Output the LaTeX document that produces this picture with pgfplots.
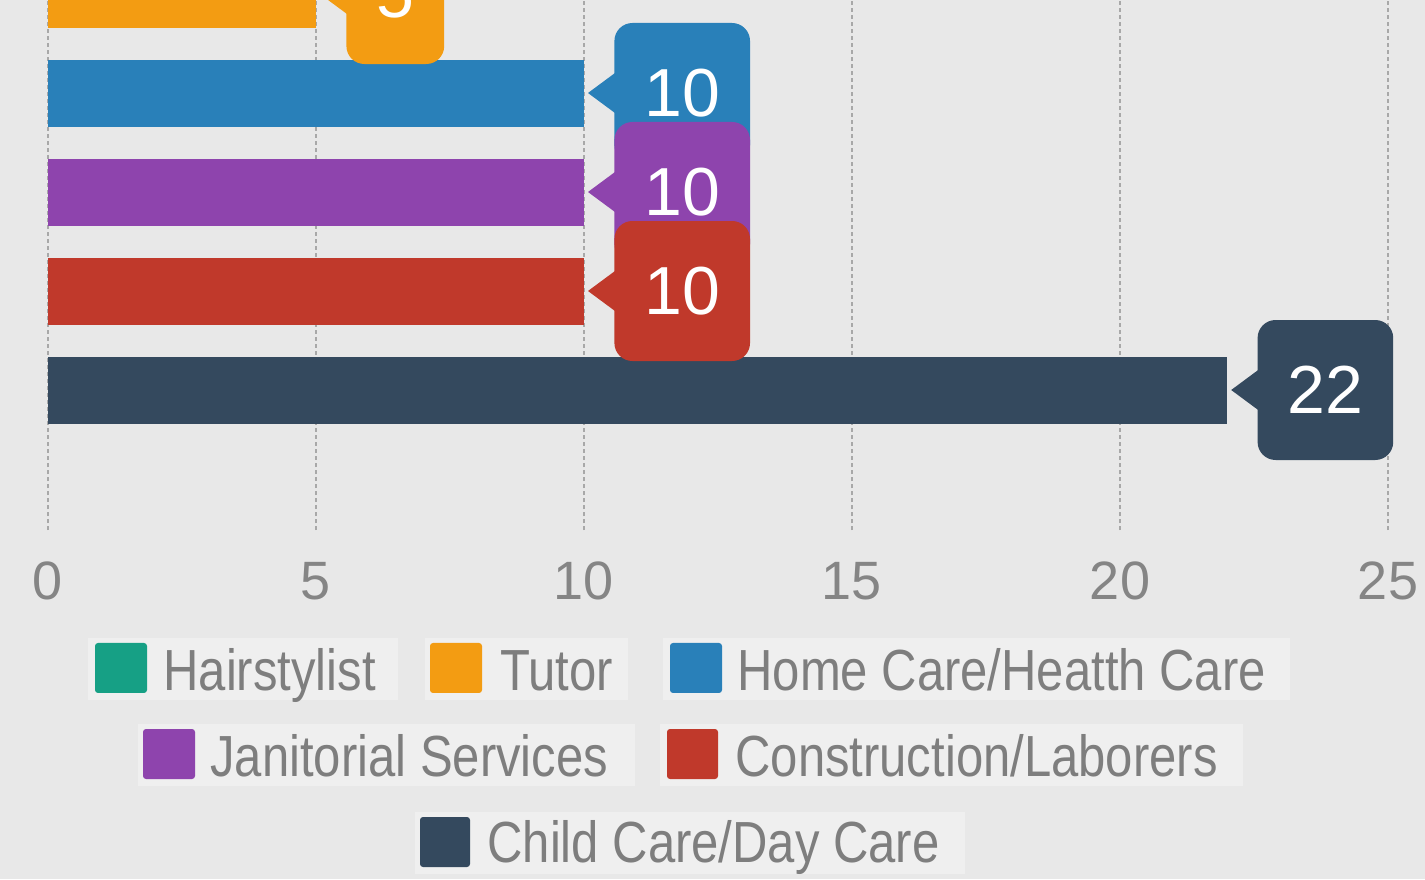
\documentclass[border=0pt]{standalone}
\usepackage{pgfplots}
\pgfplotsset{compat=1.18}
\usepackage{fontspec}
\setmainfont{Liberation Sans}
\newfontfamily\legfont[FakeStretch=0.845]{Liberation Sans}
\definecolor{bg}{HTML}{E8E8E8}
\definecolor{legbg}{HTML}{EFEFEF}
\definecolor{gridc}{HTML}{A8A8A8}
\definecolor{tickc}{HTML}{858585}
\definecolor{legtext}{HTML}{7E7E7E}
\definecolor{hair}{HTML}{16A085}
\definecolor{tutor}{HTML}{F39C12}
\definecolor{home}{HTML}{2980B9}
\definecolor{jan}{HTML}{8E44AD}
\definecolor{cons}{HTML}{C0392B}
\definecolor{child}{HTML}{34495E}
\pgfplotsset{
  bubble/.style={
    every node near coord/.append style={
      fill=#1, text=white, rounded corners=9pt,
      anchor=west, xshift=15pt, minimum height=70pt, inner xsep=15pt,
      font=\fontsize{34}{36}\selectfont,
      append after command={\pgfextra{\fill[#1, sharp corners] ([shift={(0.5pt,10pt)}]\tikzlastnode.west) -- ++(-13.5pt,-10pt) -- ++(13.5pt,-10pt) -- cycle;}}
    }
  }
}
\begin{document}
\begin{tikzpicture}
\useasboundingbox (0,0) rectangle (712.5pt,439.5pt);
\fill[bg] (0,0) rectangle (712.5pt,439.5pt);
\clip (0,0) rectangle (712.5pt,439.5pt);
\begin{axis}[
  at={(24pt,174.5pt)}, anchor=south west,
  scale only axis, width=670pt, height=347.2pt,
  xmin=0, xmax=25, ymin=-1.41414, ymax=5.6,
  xtick={0,5,10,15,20,25}, ytick=\empty,
  axis line style={draw=none}, major tick length=0pt,
  xmajorgrids,
  major grid style={color=gridc, dash pattern=on 2pt off 1.5pt, line width=0.7pt},
  xticklabel style={font=\fontsize{27}{30}\selectfont, text=tickc, anchor=north, yshift=-12.5pt},
  /pgf/number format/assume math mode=true,
  xbar, bar width=33.5pt,
  every axis plot/.append style={bar shift=0pt, draw=none},
  nodes near coords,
]
\addplot[fill=hair, bubble=hair] coordinates {(4,5)};
\addplot[fill=tutor, bubble=tutor] coordinates {(5,4)};
\addplot[fill=home, bubble=home] coordinates {(10,3)};
\addplot[fill=jan, bubble=jan] coordinates {(10,2)};
\addplot[fill=cons, bubble=cons] coordinates {(10,1)};
\addplot[fill=child, bubble=child] coordinates {(22,0)};
\end{axis}
% legend
\begin{scope}[font=\legfont\fontsize{29}{32}\selectfont, text=legtext]
% row 1
\fill[legbg] (44pt,89.5pt) rectangle (199pt,120.5pt);
\fill[hair, rounded corners=1.5pt] (47.5pt,93pt) rectangle (73.5pt,118pt);
\node[anchor=base west, inner sep=0pt] at (81.5pt,94.5pt) {Hairstylist};
\fill[legbg] (212.5pt,89.5pt) rectangle (314pt,120.5pt);
\fill[tutor, rounded corners=1.5pt] (215pt,93pt) rectangle (241pt,118pt);
\node[anchor=base west, inner sep=0pt] at (250pt,94.5pt) {Tutor};
\fill[legbg] (331.5pt,89.5pt) rectangle (645pt,120.5pt);
\fill[home, rounded corners=1.5pt] (335pt,93pt) rectangle (361pt,118pt);
\node[anchor=base west, inner sep=0pt] at (368.5pt,94.5pt) {Home Care/Heatth Care};
% row 2
\fill[legbg] (69pt,46.5pt) rectangle (317.5pt,77.5pt);
\fill[jan, rounded corners=1.5pt] (71.5pt,50pt) rectangle (97.5pt,75pt);
\node[anchor=base west, inner sep=0pt] at (105pt,51.5pt) {Janitorial Services};
\fill[legbg] (330pt,46.5pt) rectangle (621.5pt,77.5pt);
\fill[cons, rounded corners=1.5pt] (333.5pt,50pt) rectangle (359pt,75pt);
\node[anchor=base west, inner sep=0pt] at (367.5pt,51.5pt) {Construction/Laborers};
% row 3
\fill[legbg] (207.5pt,2.5pt) rectangle (482.5pt,33.5pt);
\fill[child, rounded corners=1.5pt] (210pt,6pt) rectangle (235pt,31pt);
\node[anchor=base west, inner sep=0pt] at (243.5pt,8.5pt) {Child Care/Day Care};
\end{scope}
\end{tikzpicture}
\end{document}
